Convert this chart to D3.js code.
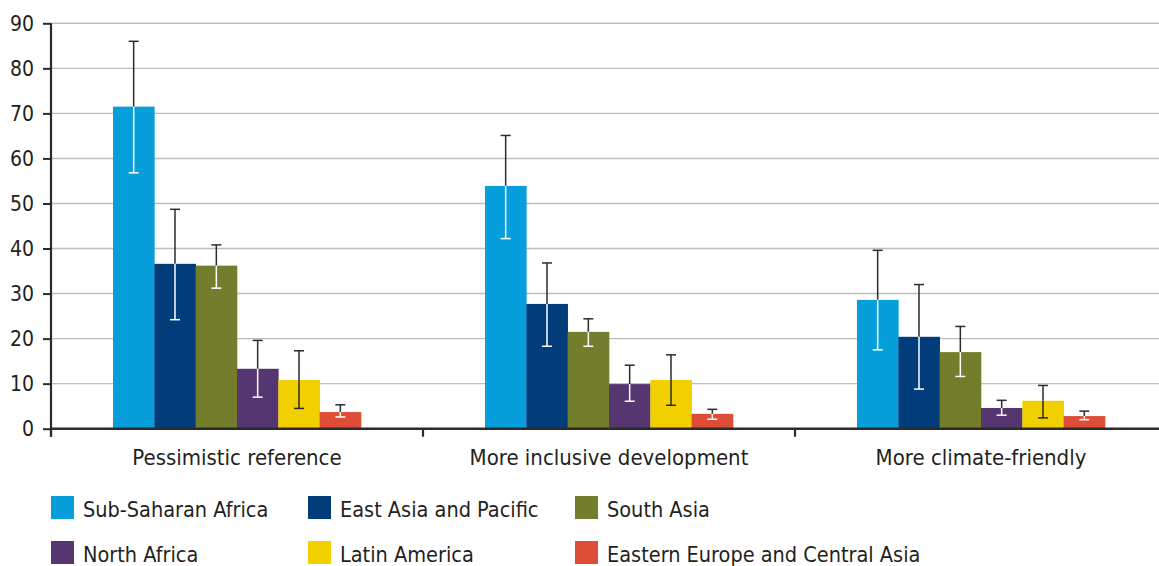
<!DOCTYPE html>
<html>
<head>
<meta charset="utf-8">
<script src="https://cdn.jsdelivr.net/npm/d3@7"></script>
<style>
  html, body { margin: 0; padding: 0; background: #fff; }
  svg { display: block; }
  text { font-family: "Liberation Sans Narrow", "DejaVu Sans Condensed", "Roboto Condensed", sans-serif; fill: #231f20; }
</style>
</head>
<body>
<svg id="chart" width="1159" height="566"></svg>
<script>
// Scenarios on the x axis
const scenarios = ["Pessimistic reference", "More inclusive development", "More climate-friendly"];
// Regions (one bar per region in each scenario)
const regions = ["Sub-Saharan Africa", "East Asia and Pacific", "South Asia",
                 "North Africa", "Latin America", "Eastern Europe and Central Asia"];
const regionColors = ["#069fdc", "#003d7a", "#737d2b", "#563670", "#f2d000", "#dd4d38"];

// Central estimates per region, one value per scenario
const subSaharanAfrica = [71.5, 53.9, 28.6];
const eastAsiaPacific  = [36.6, 27.7, 20.4];
const southAsia        = [36.2, 21.5, 17.0];
const northAfrica      = [13.3, 9.9, 4.6];
const latinAmerica     = [10.8, 10.8, 6.2];
const easternEurope    = [3.7, 3.3, 2.8];

// Uncertainty range (low, high) per region, one pair per scenario
const subSaharanAfricaRange = [[56.8, 86.0], [42.2, 65.1], [17.5, 39.6]];
const eastAsiaPacificRange  = [[24.2, 48.7], [18.3, 36.8], [8.8, 32.0]];
const southAsiaRange        = [[31.2, 40.8], [18.3, 24.4], [11.6, 22.7]];
const northAfricaRange      = [[7.0, 19.6], [6.1, 14.1], [3.0, 6.3]];
const latinAmericaRange     = [[4.5, 17.3], [5.2, 16.4], [2.4, 9.6]];
const easternEuropeRange    = [[2.6, 5.3], [2.1, 4.3], [2.0, 3.9]];

const yTicks = [0, 10, 20, 30, 40, 50, 60, 70, 80, 90];

const seriesValues = [subSaharanAfrica, eastAsiaPacific, southAsia, northAfrica, latinAmerica, easternEurope];
const seriesRanges = [subSaharanAfricaRange, eastAsiaPacificRange, southAsiaRange,
                      northAfricaRange, latinAmericaRange, easternEuropeRange];

const rows = [];
scenarios.forEach((s, si) => {
  regions.forEach((r, ri) => {
    rows.push({ scenario: s, region: r, ri,
                value: seriesValues[ri][si],
                low: seriesRanges[ri][si][0], high: seriesRanges[ri][si][1] });
  });
});

const svg = d3.select("#chart");
const plotLeft = 51, plotRight = 1167, plotTop = 23.3, plotBottom = 428.7;

const x0 = d3.scaleBand().domain(scenarios).range([plotLeft, plotRight]).paddingInner(0).paddingOuter(0);
const x1 = d3.scaleBand().domain(regions).range([0, x0.bandwidth()]).paddingOuter(1.5).paddingInner(0);
const y = d3.scaleLinear().domain([0, 90]).range([plotBottom, plotTop]);
const color = d3.scaleOrdinal().domain(regions).range(regionColors);

// Horizontal gridlines
svg.append("g")
  .selectAll("line")
  .data(yTicks.filter(d => d > 0))
  .join("line")
  .attr("x1", plotLeft).attr("x2", 1159)
  .attr("y1", d => y(d)).attr("y2", d => y(d))
  .attr("stroke", "#bdbdbd").attr("stroke-width", 1.4);

// Bars
svg.append("g")
  .selectAll("rect")
  .data(rows)
  .join("rect")
  .attr("x", d => x0(d.scenario) + x1(d.region))
  .attr("width", x1.bandwidth() + 0.3)
  .attr("y", d => y(d.value))
  .attr("height", d => y(0) - y(d.value))
  .attr("fill", d => color(d.region));

// Error bars: dark above the bar top, light where they run over the bar
const capW = 10;
const eg = svg.append("g").attr("stroke-width", 1.5);
rows.forEach(d => {
  const cx = x0(d.scenario) + x1(d.region) + x1.bandwidth() / 2;
  const dark = "#2b2b2b";
  const inner = d.region === "Latin America" ? dark : "#ffffff";
  eg.append("line").attr("x1", cx).attr("x2", cx)
    .attr("y1", y(d.high)).attr("y2", y(d.value)).attr("stroke", dark);
  eg.append("line").attr("x1", cx - capW / 2).attr("x2", cx + capW / 2)
    .attr("y1", y(d.high)).attr("y2", y(d.high)).attr("stroke", dark);
  eg.append("line").attr("x1", cx).attr("x2", cx)
    .attr("y1", y(d.value)).attr("y2", y(d.low)).attr("stroke", inner);
  eg.append("line").attr("x1", cx - capW / 2).attr("x2", cx + capW / 2)
    .attr("y1", y(d.low)).attr("y2", y(d.low)).attr("stroke", inner);
});

// Y axis
const yAxis = svg.append("g")
  .attr("transform", `translate(${plotLeft},0)`)
  .call(d3.axisLeft(y).tickValues(yTicks).tickSize(8).tickPadding(9));
yAxis.select(".domain").attr("stroke", "#2b2b2b").attr("stroke-width", 2.2)
  .attr("d", `M0,${plotTop}V${plotBottom + 8}`);
yAxis.selectAll(".tick line").attr("stroke", "#2b2b2b").attr("stroke-width", 2);
yAxis.selectAll(".tick text").attr("font-size", 21).attr("fill", "#231f20")
  .attr("font-family", null);

// X axis line and category boundary ticks
svg.append("line")
  .attr("x1", plotLeft).attr("x2", 1159)
  .attr("y1", plotBottom).attr("y2", plotBottom)
  .attr("stroke", "#2b2b2b").attr("stroke-width", 2.4);
svg.append("g")
  .selectAll("line")
  .data(scenarios)
  .join("line")
  .attr("x1", d => x0(d)).attr("x2", d => x0(d))
  .attr("y1", plotBottom).attr("y2", plotBottom + 8)
  .attr("stroke", "#2b2b2b").attr("stroke-width", 2.2);

svg.append("g")
  .selectAll("text")
  .data(scenarios)
  .join("text")
  .attr("x", d => x0(d) + x0.bandwidth() / 2)
  .attr("y", 465)
  .attr("text-anchor", "middle")
  .attr("font-size", 22)
  .text(d => d);

// Legend: two rows of three
const legendX = [51, 308, 575];
const legendY = [496, 541];
const lg = svg.append("g");
regions.forEach((r, i) => {
  const col = i % 3, row = Math.floor(i / 3);
  lg.append("rect")
    .attr("x", legendX[col]).attr("y", legendY[row])
    .attr("width", 23).attr("height", 23)
    .attr("fill", color(r));
  lg.append("text")
    .attr("x", legendX[col] + 32).attr("y", legendY[row] + 21)
    .attr("font-size", 21.5)
    .text(r);
});
</script>
</body>
</html>
